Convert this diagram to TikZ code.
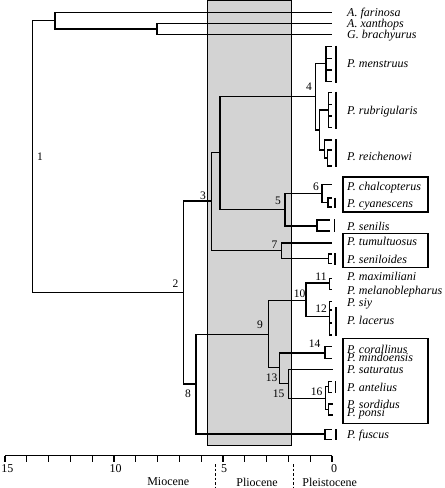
\documentclass[tikz,border=0pt]{standalone}
\usepackage{fontspec}
\setmainfont{Liberation Serif}
\definecolor{shade}{RGB}{211,211,211}
\newcommand\mycomb[5]{\draw[comb] (#1,#2) -- (#1,#3); \foreach \yy in {#4} {\draw[comb] (#1,\yy) -- (#5,\yy);}}
\newcommand\mybar[3]{\draw[barline] (#1,#2) -- (#1,#3);}
\begin{document}
\begin{tikzpicture}[x=1pt,y=-1pt,
  tree/.style={line width=1.45pt, line join=miter},
  comb/.style={line width=1.3pt, line cap=rect},
  barline/.style={line width=1.6pt},
  sp/.style={anchor=base west, inner sep=0pt, font=\fontsize{12}{12}\selectfont\itshape},
  num/.style={inner sep=0pt, font=\fontsize{11.5}{11.5}\selectfont},
  ax/.style={inner sep=0pt, font=\fontsize{12}{12}\selectfont},
  grp/.style={draw, line width=1.6pt},
  epoch/.style={line width=0.9pt, dash pattern=on 2.5pt off 2pt}]
\useasboundingbox (0,0) rectangle (445,488);
% shaded Pliocene band
\draw[line width=0.8pt, fill=shade] (207.7,0.5) rectangle (291.5,445);
% internal nodes
\coordinate (n1) at (32.7,156);
\coordinate (nY) at (55,20.7);
\coordinate (nX) at (157,29);
\coordinate (n2) at (183.3,292.3);
\coordinate (n3) at (211.7,201);
\coordinate (n3a) at (220,152.7);
\coordinate (n4) at (315.7,96.5);
\coordinate (n4b) at (319.5,130);
\coordinate (n5) at (285,209.5);
\coordinate (n6) at (322,193.3);
\coordinate (n7) at (281.7,250.5);
\coordinate (n8) at (196,384);
\coordinate (n9) at (268.3,334.5);
\coordinate (n10) at (306,300.7);
\coordinate (n13) at (279.3,367.3);
\coordinate (n15) at (288.3,383.3);
\coordinate (n16) at (325.7,398.3);
% tips and bracket inputs
\coordinate (tFar) at (332,12.3);
\coordinate (tXan) at (332,23.3);
\coordinate (tBra) at (332,34.7);
\coordinate (bMen) at (326,63.5);
\coordinate (bRub) at (328.5,110);
\coordinate (bRei) at (324.5,150);
\coordinate (tCha) at (332,184.5);
\coordinate (bCya) at (328,202.5);
\coordinate (bSen) at (317,226);
\coordinate (tTum) at (332,243);
\coordinate (bSnl) at (328.3,258.5);
\coordinate (b11) at (329.3,283);
\coordinate (b12) at (329.3,316.7);
\coordinate (b14) at (325,353);
\coordinate (tSat) at (332.5,369.3);
\coordinate (bAnt) at (328.5,386.5);
\coordinate (bSor) at (328.5,409.5);
\coordinate (bFus) at (325,434);
% branches
\draw[tree] (n1) |- (nY) (n1) |- (n2)
  (nY) |- (tFar) (nY) |- (nX) (nX) |- (tXan) (nX) |- (tBra)
  (n2) |- (n3) (n2) |- (n8)
  (n3) |- (n3a) (n3) |- (n7)
  (n3a) |- (n4) (n3a) |- (n5)
  (n4) |- (bMen) (n4) |- (n4b)
  (n4b) |- (bRub) (n4b) |- (bRei)
  (n5) |- (n6) (n5) |- (bSen)
  (n6) |- (tCha) (n6) |- (bCya)
  (n7) |- (tTum) (n7) |- (bSnl)
  (n8) |- (n9) (n8) |- (bFus)
  (n9) |- (n10) (n9) |- (n13)
  (n10) |- (b11) (n10) |- (b12)
  (n13) |- (b14) (n13) |- (n15)
  (n15) |- (tSat) (n15) |- (n16)
  (n16) |- (bAnt) (n16) |- (bSor);
% sequence combs and species bars
\mycomb{326}{46.7}{81.7}{46.7,58.3,70,81.7}{331.7}
\mybar{335.7}{45.5}{83}
\mycomb{328.5}{92.7}{127.3}{92.7,104.3,116,127.3}{331.7}
\mybar{335.7}{91.5}{128.5}
\mycomb{324.5}{140}{158}{140,158}{327.7}
\draw[comb] (324.5,140) -- (331.7,140);
\mycomb{327.7}{150}{166}{150,166}{331.7}
\mybar{335.7}{139}{167}
\mycomb{328}{198}{207}{198,207}{331.7}
\mybar{334.8}{197.5}{208}
\mycomb{317}{220}{231}{220,231}{329}
\mybar{334.3}{219}{232}
\mycomb{328.3}{254}{263.3}{254,263.3}{331.7}
\mybar{334.8}{253}{264.5}
\mycomb{329.3}{278.3}{289.3}{278.3,289.3}{331.7}
\mycomb{329.3}{301.7}{335}{301.7,310,323,335}{331.7}
\mybar{336}{307}{335.5}
\mycomb{325}{346.7}{358.3}{346.7,358.3}{331.7}
\mycomb{328.5}{381.5}{392.5}{381.5,392.5}{331.7}
\mybar{335.5}{381}{393}
\mycomb{328.5}{404}{415}{404,415}{332}
\mycomb{325}{429.3}{439.3}{429.3,439.3}{331.7}
\mybar{336}{429}{440}
% group boxes
\draw[grp] (342.7,176.7) rectangle (427.7,211.7);
\draw[grp] (342.7,233.3) rectangle (427.7,267.3);
\draw[grp] (342.7,338.3) rectangle (427.7,423.3);
% species names
\node[sp] (lFar) at (347,16.1) {A. farinosa};
\node[sp] (lXan) at (347,27.1) {A. xanthops};
\node[sp] (lBra) at (347,38.5) {G. brachyurus};
\node[sp] (lMen) at (347,67.8) {P. menstruus};
\node[sp] (lRub) at (347,114.8) {P. rubrigularis};
\node[sp] (lRei) at (347,160.8) {P. reichenowi};
\node[sp] (lCha) at (347,190.8) {P. chalcopterus};
\node[sp] (lCya) at (347,207.8) {P. cyanescens};
\node[sp] (lSen) at (347,230.8) {P. senilis};
\node[sp] (lTum) at (347,245.8) {P. tumultuosus};
\node[sp] (lSnl) at (347,263.8) {P. seniloides};
\node[sp] (lMax) at (347,280.8) {P. maximiliani};
\node[sp] (lMel) at (347,294.8) {P. melanoblepharus};
\node[sp] (lSiy) at (347,306.8) {P. siy};
\node[sp] (lLac) at (347,324.8) {P. lacerus};
\node[sp] (lCor) at (347,353.2) {P. corallinus};
\node[sp] (lMin) at (347,361.8) {P. mindoensis};
\node[sp] (lSat) at (347,373.8) {P. saturatus};
\node[sp] (lAnt) at (347,391.8) {P. antelius};
\node[sp] (lSor) at (347,408) {P. sordidus};
\node[sp] (lPon) at (347,416.8) {P. ponsi};
\node[sp] (lFus) at (347,438.3) {P. fuscus};
% node numbers
\node[num] (k1) at (40,157) {1};
\node[num] (k2) at (175.5,284) {2};
\node[num] (k3) at (203,195.5) {3};
\node[num] (k4) at (309,87) {4};
\node[num] (k5) at (278,200.5) {5};
\node[num] (k6) at (316,186.7) {6};
\node[num] (k7) at (274.5,244.5) {7};
\node[num] (k8) at (188,393.5) {8};
\node[num] (k9) at (260,325) {9};
\node[num] (k10) at (299.5,293.7) {10};
\node[num] (k11) at (321,276.5) {11};
\node[num] (k12) at (321,309) {12};
\node[num] (k13) at (271.5,377.5) {13};
\node[num] (k14) at (314.5,344) {14};
\node[num] (k15) at (278.7,394) {15};
\node[num] (k16) at (316.5,391.5) {16};
% time axis
\draw[line width=1.3pt] (5,455.7) -- (332,455.7);
\foreach \k in {0,...,15} {\draw[line width=1.1pt] ({332-21.8*\k},455.7) -- ({332-21.8*\k},462.3);}
\node[ax] (a15) at (7.5,469) {15};
\node[ax] (a10) at (115.5,469) {10};
\node[ax] (a5) at (224,469) {5};
\node[ax] (a0) at (334,469) {0};
\node[ax] (eMio) at (168.3,482) {Miocene};
\node[ax] (ePli) at (257,482) {Pliocene};
\node[ax] (ePle) at (329.7,482) {Pleistocene};
\draw[epoch] (215,464) -- (215,488);
\draw[epoch] (293.3,464) -- (293.3,488);
\end{tikzpicture}
\end{document}
